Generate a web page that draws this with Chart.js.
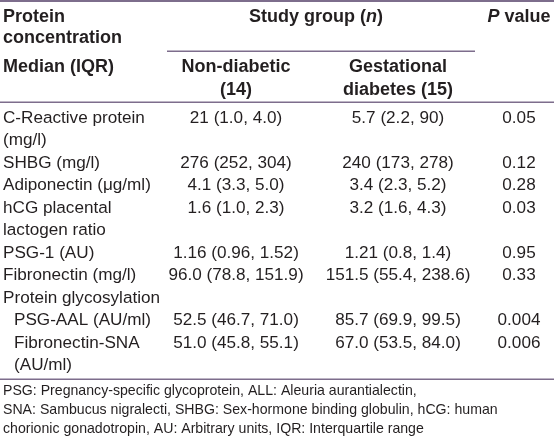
<!DOCTYPE html>
<html>
<head>
<meta charset="utf-8">
<script src="https://cdn.jsdelivr.net/npm/chart.js@4.4.1/dist/chart.umd.min.js"></script>
<style>
  html, body { margin: 0; padding: 0; background: #fff; }
  canvas { display: block; }
</style>
</head>
<body>
<canvas id="tableChart" width="554" height="448"></canvas>
<script>
// table rows (first column), one entry per row, wrapped lines as in the print
const rowLabels = [
  ["C-Reactive protein", "(mg/l)"],
  ["SHBG (mg/l)"],
  ["Adiponectin (\u03bcg/ml)"],
  ["hCG placental", "lactogen ratio"],
  ["PSG-1 (AU)"],
  ["Fibronectin (mg/l)"],
  ["Protein glycosylation"],
  ["PSG-AAL (AU/ml)"],
  ["Fibronectin-SNA", "(AU/ml)"],
];
const subRows = [false, false, false, false, false, false, false, true, true];

// median (IQR) per study group
const nonDiabetic = ["21 (1.0, 4.0)", "276 (252, 304)", "4.1 (3.3, 5.0)", "1.6 (1.0, 2.3)",
  "1.16 (0.96, 1.52)", "96.0 (78.8, 151.9)", "", "52.5 (46.7, 71.0)", "51.0 (45.8, 55.1)"];
const gestational = ["5.7 (2.2, 90)", "240 (173, 278)", "3.4 (2.3, 5.2)", "3.2 (1.6, 4.3)",
  "1.21 (0.8, 1.4)", "151.5 (55.4, 238.6)", "", "85.7 (69.9, 99.5)", "67.0 (53.5, 84.0)"];
const pValues = ["0.05", "0.12", "0.28", "0.03", "0.95", "0.33", "", "0.004", "0.006"];

const groupHeads = [["Non-diabetic", "(14)"], ["Gestational", "diabetes (15)"]];
const footnotes = [
  "PSG: Pregnancy-specific glycoprotein, ALL: Aleuria aurantialectin,",
  "SNA: Sambucus nigralecti, SHBG: Sex-hormone binding globulin, hCG: human",
  "chorionic gonadotropin, AU: Arbitrary units, IQR: Interquartile range",
];

// one category per printed line
const lines = [];
rowLabels.forEach((r, i) => r.forEach((t, j) => lines.push({ row: i, text: t, first: j === 0 })));
const lineKeys = lines.map((l, k) => "L" + k);

const ink = "#231f20";
const rule = "#7d6d8c";
const bodyFamily = "'Liberation Sans', Arial";
const headFamily = "'Liberation Sans', Arial";
const cols = { label: 3, indent: 14, nd: 236, gd: 398, p: 519 };

function fitSize(ctx, font, sample, target) {
  ctx.font = font.replace("{s}", "100px");
  return (100 * target) / ctx.measureText(sample).width;
}

function drawRuns(ctx, runs, cx, y) {
  let total = 0;
  runs.forEach((r) => { ctx.font = r.font; total += ctx.measureText(r.text).width; });
  let x = cx - total / 2;
  ctx.textAlign = "left";
  runs.forEach((r) => { ctx.font = r.font; ctx.fillText(r.text, x, y); x += ctx.measureText(r.text).width; });
}

const tableText = {
  id: "tableText",
  afterDraw(chart) {
    const { ctx, scales: { x, y } } = chart;
    ctx.save();
    ctx.fillStyle = ink;
    ctx.textBaseline = "alphabetic";

    const headSize = fitSize(ctx, "bold {s} " + headFamily, "Median (IQR)", 111);
    const bodySize = fitSize(ctx, "{s} " + bodyFamily, "C-Reactive protein", 142);
    const noteSize = fitSize(ctx, "{s} " + bodyFamily, footnotes[1], 495);
    const hb = "bold " + headSize + "px " + headFamily;
    const hbi = "italic bold " + headSize + "px " + headFamily;

    // rules
    ctx.fillStyle = rule;
    ctx.fillRect(0, 0, 554, 2);
    ctx.fillRect(x.getPixelForValue(167), 50.5, 308, 1.5);
    ctx.fillRect(0, 101.5, 554, 1.5);
    ctx.fillRect(0, 378.5, 554, 1.5);
    ctx.fillStyle = ink;

    // header
    ctx.font = hb;
    ctx.textAlign = "left";
    ctx.fillText("Protein", x.getPixelForValue(cols.label), 22);
    ctx.fillText("concentration", x.getPixelForValue(cols.label), 43);
    ctx.fillText("Median (IQR)", x.getPixelForValue(cols.label), 71.5);
    drawRuns(ctx, [{ text: "Study group (", font: hb }, { text: "n", font: hbi }, { text: ")", font: hb }],
      x.getPixelForValue(316), 22);
    drawRuns(ctx, [{ text: "P", font: hbi }, { text: " value", font: hb }], x.getPixelForValue(cols.p), 22);
    ctx.font = hb;
    ctx.textAlign = "center";
    [cols.nd, cols.gd].forEach((cx, i) => {
      ctx.fillText(groupHeads[i][0], x.getPixelForValue(cx), 71.5);
      ctx.fillText(groupHeads[i][1], x.getPixelForValue(cx), 94.5);
    });

    // body
    ctx.font = bodySize + "px " + bodyFamily;
    lines.forEach((l, k) => {
      const by = y.getPixelForValue(k) + 5.3;
      ctx.textAlign = "left";
      const lx = subRows[l.row] ? cols.indent : cols.label;
      ctx.fillText(l.text, x.getPixelForValue(lx), by);
      if (!l.first) return;
      ctx.textAlign = "center";
      ctx.fillText(nonDiabetic[l.row], x.getPixelForValue(cols.nd), by);
      ctx.fillText(gestational[l.row], x.getPixelForValue(cols.gd), by);
      ctx.fillText(pValues[l.row], x.getPixelForValue(cols.p), by);
    });

    // footnote
    ctx.font = noteSize + "px " + bodyFamily;
    ctx.textAlign = "left";
    footnotes.forEach((t, i) => ctx.fillText(t, x.getPixelForValue(cols.label), 395 + i * 19));
    ctx.restore();
  },
};

new Chart(document.getElementById("tableChart"), {
  type: "scatter",
  data: { datasets: [] },
  options: {
    responsive: false,
    animation: false,
    layout: { padding: { top: 105.95, bottom: 72.05, left: 0, right: 0 } },
    plugins: { legend: { display: false }, tooltip: { enabled: false } },
    scales: {
      x: { type: "linear", min: 0, max: 554, display: false },
      y: { type: "category", labels: lineKeys, offset: true, display: false },
    },
  },
  plugins: [tableText],
});
</script>
</body>
</html>
